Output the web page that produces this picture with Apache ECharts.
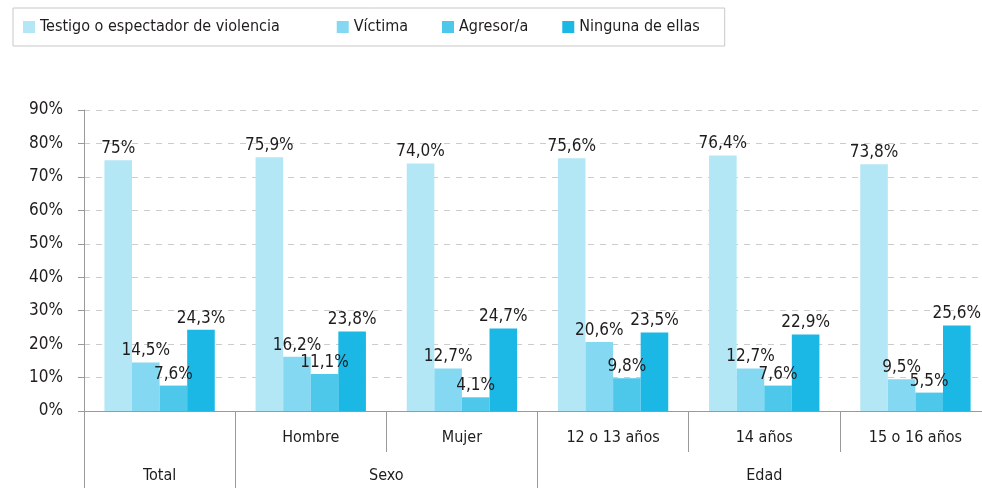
<!DOCTYPE html>
<html>
<head>
<meta charset="utf-8">
<script src="https://cdn.jsdelivr.net/npm/echarts@6/dist/echarts.min.js"></script>
<style>
  html, body { margin: 0; padding: 0; background: #fff; }
  #chart { width: 982px; height: 488px; }
</style>
</head>
<body>
<div id="chart"></div>
<script>
// categorías (primer nivel) y grupos (segundo nivel)
var subCats = ['', 'Hombre', 'Mujer', '12 o 13 años', '14 años', '15 o 16 años'];
var groupLabels = ['', 'Total', '', '', 'Sexo', '', '', '', '', 'Edad', '', '', ''];
var groupTicks = [0, 2, 6, 12];

var seriesNames = ['Testigo o espectador de violencia', 'Víctima', 'Agresor/a', 'Ninguna de ellas'];
var testigo = ['75', '75.9', '74.0', '75.6', '76.4', '73.8'];
var victima = ['14.5', '16.2', '12.7', '20.6', '12.7', '9.5'];
var agresor = ['7.6', '11.1', '4.1', '9.8', '7.6', '5.5'];
var ninguna = ['24.3', '23.8', '24.7', '23.5', '22.9', '25.6'];
var colors = ['#b3e7f5', '#84d8f2', '#4ec8ea', '#1bb8e6'];

var font = 'DejaVu Sans Condensed';
var txt = '#1f1c1d';

var chart = echarts.init(document.getElementById('chart'));

function mkSeries(name, data, i) {
    return {
        name: name,
        type: 'bar',
        data: data,
        barGap: 0,
        barCategoryGap: '27%',
        itemStyle: { color: colors[i] },
        label: {
            show: true,
            position: 'top',
            distance: 3,
            color: txt,
            fontFamily: font,
            fontSize: 17,
            formatter: function (p) {
                return String(p.data).replace('.', ',') + '%';
            }
        }
    };
}

chart.setOption({
    animation: false,
    textStyle: { fontFamily: font },
    legend: {
        left: 13,
        top: 8,
        padding: [10, 25, 10, 10],
        borderColor: '#c8c8c8',
        borderWidth: 1,
        itemWidth: 12,
        itemHeight: 12,
        itemGap: 34,
        icon: 'rect',
        textStyle: {
            fontFamily: font, fontSize: 16, color: txt, lineHeight: 18,
            rich: { first: { fontFamily: font, fontSize: 16, color: txt, lineHeight: 18, padding: [0, 23, 0, 0] } }
        },
        formatter: function (name) {
            return name === seriesNames[0] ? '{first|' + name + '}' : name;
        },
        data: seriesNames
    },
    grid: { left: 84, top: 110, width: 907, bottom: 77, outerBoundsMode: 'none', containLabel: false },
    xAxis: [
        {
            type: 'category',
            data: subCats,
            axisLine: { lineStyle: { color: '#9a9a9a' } },
            axisTick: {
                show: true,
                length: 41,
                lineStyle: { color: '#9a9a9a' },
                interval: 0
            },
            axisLabel: { margin: 19, color: txt, fontFamily: font, fontSize: 16, interval: 0 }
        },
        {
            type: 'category',
            position: 'bottom',
            boundaryGap: false,
            data: groupLabels,
            axisLine: { show: false },
            axisTick: {
                show: true,
                length: 77,
                lineStyle: { color: '#9a9a9a' },
                interval: function (index) { return groupTicks.indexOf(index) >= 0; }
            },
            axisLabel: { margin: 57, color: txt, fontFamily: font, fontSize: 16, interval: 0 }
        }
    ],
    yAxis: {
        type: 'value',
        min: 0,
        max: 90,
        interval: 10,
        axisLine: { show: true, lineStyle: { color: '#9a9a9a' } },
        axisTick: { show: true, length: 6, lineStyle: { color: '#9a9a9a' } },
        axisLabel: { formatter: '{value}%', color: txt, fontFamily: font, fontSize: 17, margin: 21 },
        splitLine: { lineStyle: { color: '#cccccc', type: [6, 6] } }
    },
    series: [
        mkSeries(seriesNames[0], testigo, 0),
        mkSeries(seriesNames[1], victima, 1),
        mkSeries(seriesNames[2], agresor, 2),
        mkSeries(seriesNames[3], ninguna, 3)
    ]
});
</script>
</body>
</html>
